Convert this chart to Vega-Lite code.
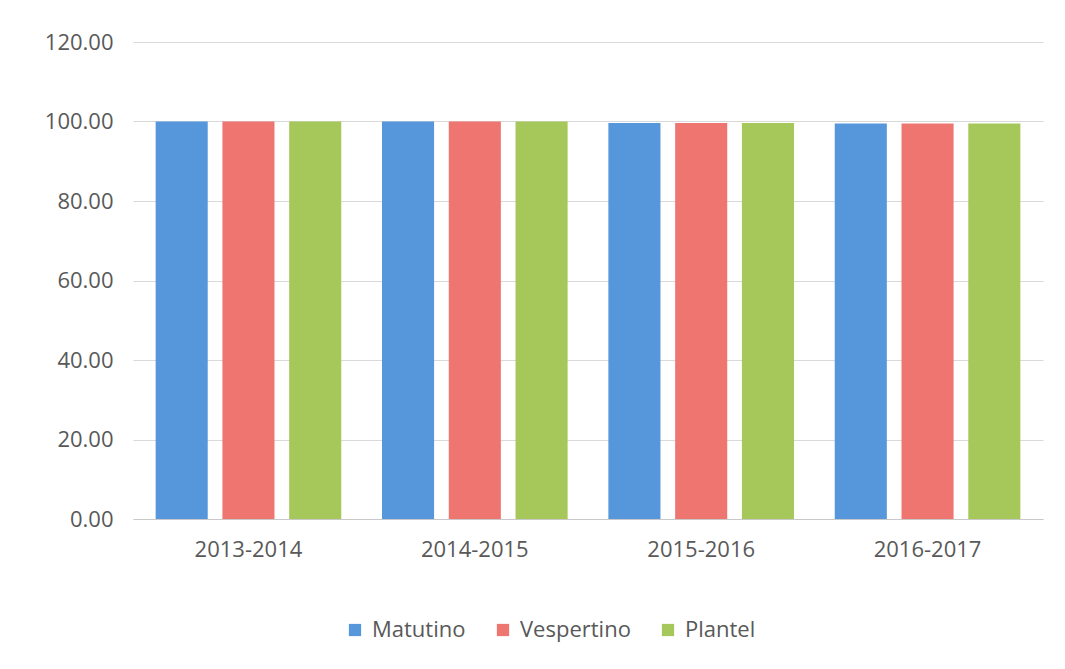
{
  "$schema": "https://vega.github.io/schema/vega-lite/v6.json",
  "autosize": {"type": "none"},
  "width": 910,
  "height": 477,
  "padding": {"left": 133, "top": 42, "right": 22, "bottom": 150},
  "background": "white",
  "data": {
    "values": [
      {"ciclo": "2013-2014", "turno": "Matutino", "valor": 100},
      {"ciclo": "2013-2014", "turno": "Vespertino", "valor": 100},
      {"ciclo": "2013-2014", "turno": "Plantel", "valor": 100},
      {"ciclo": "2014-2015", "turno": "Matutino", "valor": 100},
      {"ciclo": "2014-2015", "turno": "Vespertino", "valor": 100},
      {"ciclo": "2014-2015", "turno": "Plantel", "valor": 100},
      {"ciclo": "2015-2016", "turno": "Matutino", "valor": 99.6},
      {"ciclo": "2015-2016", "turno": "Vespertino", "valor": 99.6},
      {"ciclo": "2015-2016", "turno": "Plantel", "valor": 99.6},
      {"ciclo": "2016-2017", "turno": "Matutino", "valor": 99.5},
      {"ciclo": "2016-2017", "turno": "Vespertino", "valor": 99.5},
      {"ciclo": "2016-2017", "turno": "Plantel", "valor": 99.5}
    ]
  },
  "mark": {"type": "bar"},
  "encoding": {
    "x": {
      "field": "ciclo",
      "type": "nominal",
      "title": null,
      "scale": {"paddingInner": 0.18, "paddingOuter": 0.1},
      "axis": {
        "labelAngle": 0,
        "ticks": false,
        "labelPadding": 20,
        "domainColor": "#c8c8c8",
        "labelFontSize": 22,
        "labelColor": "#595959",
        "labelFont": "Open Sans"
      }
    },
    "xOffset": {
      "field": "turno",
      "type": "nominal",
      "sort": ["Matutino", "Vespertino", "Plantel"],
      "scale": {"paddingInner": 0.22, "paddingOuter": 0}
    },
    "y": {
      "field": "valor",
      "type": "quantitative",
      "title": null,
      "scale": {"domain": [0, 120]},
      "axis": {
        "values": [0, 20, 40, 60, 80, 100, 120],
        "format": ".2f",
        "domain": false,
        "ticks": false,
        "labelPadding": 20,
        "gridColor": "#d9d9d9",
        "labelFontSize": 22,
        "labelColor": "#595959",
        "labelFont": "Open Sans"
      }
    },
    "color": {
      "field": "turno",
      "type": "nominal",
      "sort": ["Matutino", "Vespertino", "Plantel"],
      "scale": {
        "domain": ["Matutino", "Vespertino", "Plantel"],
        "range": ["#5597DA", "#EE7570", "#A6C85B"]
      },
      "legend": {
        "title": null,
        "orient": "none",
        "legendX": 211,
        "legendY": 577,
        "direction": "horizontal",
        "symbolType": "square",
        "symbolSize": 150,
        "symbolStrokeWidth": 0,
        "labelFontSize": 22,
        "labelColor": "#595959",
        "labelFont": "Open Sans",
        "columnPadding": 26,
        "labelOffset": 6
      }
    }
  },
  "config": {
    "view": {"stroke": null}
  }
}
